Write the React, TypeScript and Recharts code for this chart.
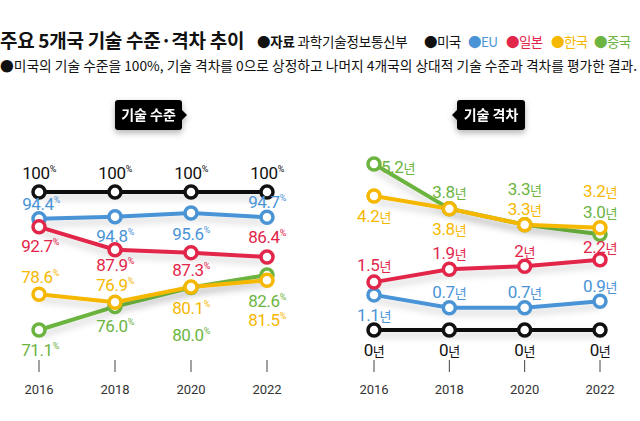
import { LineChart, Line, XAxis, YAxis } from 'recharts'

const years = [2016, 2018, 2020, 2022]

// 기술 수준 (%), 미국 = 100
const levelUS = ['100', '100', '100', '100']
const levelEU = ['94.4', '94.8', '95.6', '94.7']
const levelJP = ['92.7', '87.9', '87.3', '86.4']
const levelKR = ['78.6', '76.9', '80.1', '81.5']
const levelCN = ['71.1', '76.0', '80.0', '82.6']

// 기술 격차 (년), 미국 = 0
const gapUS = ['0', '0', '0', '0']
const gapEU = ['1.1', '0.7', '0.7', '0.9']
const gapJP = ['1.5', '1.9', '2', '2.2']
const gapKR = ['4.2', '3.8', '3.3', '3.2']
const gapCN = ['5.2', '3.8', '3.3', '3.0']

const C = {
  us: '#111111',
  eu: '#4a94d6',
  jp: '#e2264a',
  kr: '#f6b700',
  cn: '#6cb43f',
}

const FONT = "'Noto Sans CJK KR', sans-serif"
const NUM_FONT = "Roboto, 'Noto Sans CJK KR', sans-serif"

type Pos = [number, number, 'start' | 'middle' | 'end']

// label offsets from each dot: dx, dy (to baseline), anchor
const levelPos: Record<string, Pos[]> = {
  us: [[0, -13, 'middle'], [0, -13, 'middle'], [0, -13, 'middle'], [0, -13, 'middle']],
  eu: [[2, -9, 'middle'], [0, 25, 'middle'], [0, 27, 'middle'], [0, -9, 'middle']],
  jp: [[1, 25, 'middle'], [0, 21, 'middle'], [0, 23, 'middle'], [0, -14, 'middle']],
  kr: [[1, -11, 'middle'], [0, -11, 'middle'], [0, 27, 'middle'], [0, 46, 'middle']],
  cn: [[1, 26, 'middle'], [0, 25, 'middle'], [0, 53, 'middle'], [0, 32, 'middle']],
}

const gapPos: Record<string, Pos[]> = {
  us: [[0, 26, 'middle'], [0, 26, 'middle'], [0, 26, 'middle'], [0, 26, 'middle']],
  eu: [[0, 26, 'middle'], [0, -10, 'middle'], [0, -10, 'middle'], [0, -9, 'middle']],
  jp: [[0, -11, 'middle'], [0, -10, 'middle'], [0, -9, 'middle'], [0, -7, 'middle']],
  kr: [[0, 26, 'middle'], [0, 26, 'middle'], [0, -10, 'middle'], [0, -31, 'middle']],
  cn: [[7, 9, 'start'], [0, -11, 'middle'], [0, -30, 'middle'], [0, -16, 'middle']],
}

// draw order: green before yellow so yellow dots sit on top
const order = ['us', 'eu', 'jp', 'cn', 'kr'] as const

const levelData = years.map((year, i) => ({
  year,
  us: Number(levelUS[i]),
  eu: Number(levelEU[i]),
  jp: Number(levelJP[i]),
  kr: Number(levelKR[i]),
  cn: Number(levelCN[i]),
}))
const levelText: Record<string, string[]> = { us: levelUS, eu: levelEU, jp: levelJP, kr: levelKR, cn: levelCN }

const gapData = years.map((year, i) => ({
  year,
  us: Number(gapUS[i]),
  eu: Number(gapEU[i]),
  jp: Number(gapJP[i]),
  kr: Number(gapKR[i]),
  cn: Number(gapCN[i]),
}))
const gapText: Record<string, string[]> = { us: gapUS, eu: gapEU, jp: gapJP, kr: gapKR, cn: gapCN }

function YearTick(props: any) {
  const { x, y, payload } = props
  return (
    <g>
      <line x1={x} x2={x} y1={y + 30} y2={y + 42} stroke="#444" strokeWidth={1} />
      <text x={x} y={y + 64} textAnchor="middle" fontSize={13} fill="#333" fontFamily={NUM_FONT}>
        {payload.value}
      </text>
    </g>
  )
}

const ring = (color: string) => (p: any) => (
  <circle key={`r${p.index}`} cx={p.cx} cy={p.cy} r={6} fill="#fff" stroke={color} strokeWidth={3.5} />
)

const tag = (color: string, texts: string[], pos: Pos[], unit: 'pct' | 'yr') => (p: any) => {
  const [dx, dy, anchor] = pos[p.index]
  return (
    <text
      key={`t${p.index}`}
      x={p.cx + dx}
      y={p.cy + dy}
      textAnchor={anchor}
      fill={color}
      fontFamily={NUM_FONT}
      fontSize={17}
      letterSpacing={-0.4}
    >
      {texts[p.index]}
      {unit === 'pct' ? (
        <tspan fontSize={9} dy={-7}>%</tspan>
      ) : (
        <tspan fontSize={13} fontFamily={FONT}>년</tspan>
      )}
    </text>
  )
}

function Panel({
  data,
  texts,
  pos,
  unit,
  domain,
  margin,
}: {
  data: any[]
  texts: Record<string, string[]>
  pos: Record<string, Pos[]>
  unit: 'pct' | 'yr'
  domain: [number, number]
  margin: { top: number; right: number; bottom: number; left: number }
}) {
  return (
    <LineChart width={320} height={421} data={data} margin={margin} style={{ overflow: 'visible' }}>
      <XAxis
        dataKey="year"
        type="number"
        domain={[2016, 2022]}
        ticks={years}
        axisLine={false}
        tickLine={false}
        tickSize={0}
        tickMargin={0}
        height={60}
        tick={<YearTick />}
      />
      <YAxis hide type="number" domain={domain} />
      {order.map((k) => (
        <Line
          key={k}
          dataKey={k}
          stroke={C[k]}
          strokeWidth={4}
          filter="url(#lineShadow)"
          dot={ring(C[k])}
          activeDot={false}
          isAnimationActive={false}
        />
      ))}
      {order.map((k) => (
        <Line
          key={`lbl-${k}`}
          dataKey={k}
          stroke="none"
          dot={tag(C[k], texts[k], pos[k], unit)}
          activeDot={false}
          isAnimationActive={false}
        />
      ))}
    </LineChart>
  )
}

function Badge({ x, w, text, side }: { x: number; w: number; text: string; side: 'left' | 'right' }) {
  const y = 100
  const h = 30
  const tip =
    side === 'right'
      ? `M${x + w},${y + h / 2 - 5} L${x + w + 5},${y + h / 2} L${x + w},${y + h / 2 + 5} Z`
      : `M${x},${y + h / 2 - 5} L${x - 5},${y + h / 2} L${x},${y + h / 2 + 5} Z`
  return (
    <g filter="url(#badgeShadow)">
      <rect x={x} y={y} width={w} height={h} rx={3} fill="#000" />
      <path d={tip} fill="#000" />
      <text x={x + w / 2} y={y + 20} textAnchor="middle" fill="#fff" fontSize={14} fontWeight={700} fontFamily={FONT}>
        {text}
      </text>
    </g>
  )
}

const legend = [
  { label: '미국', color: C.us, x: 424 },
  { label: 'EU', color: C.eu, x: 468 },
  { label: '일본', color: C.jp, x: 506 },
  { label: '한국', color: C.kr, x: 551 },
  { label: '중국', color: C.cn, x: 594 },
]

export default function App() {
  return (
    <div style={{ position: 'absolute', left: 0, top: 0, width: 640, height: 421, background: '#fff', fontFamily: FONT }}>
      <svg width={640} height={140} style={{ position: 'absolute', left: 0, top: 0 }}>
        <defs>
          <filter id="lineShadow" filterUnits="userSpaceOnUse" x={-40} y={0} width={400} height={421}>
            <feDropShadow dx="0" dy="5" stdDeviation="3.5" floodColor="#000" floodOpacity="0.18" />
          </filter>
          <filter id="badgeShadow" x="-20%" y="-30%" width="140%" height="180%">
            <feDropShadow dx="0" dy="3" stdDeviation="3" floodColor="#000" floodOpacity="0.3" />
          </filter>
        </defs>
        <text x={0} y={48} fontSize={19} fontWeight={700} letterSpacing={-0.3} fill="#111" fontFamily={FONT}>
          주요 5개국 기술 수준·격차 추이
        </text>
        <text x={257} y={47} fontSize={13.5} fill="#111" letterSpacing={-0.2} fontFamily={FONT}>
          <tspan fontWeight={700}>●자료</tspan> 과학기술정보통신부
        </text>
        {legend.map((l) => (
          <text key={l.label} x={l.x} y={47} fontSize={13.5} fill={l.color} letterSpacing={-0.6} fontFamily={FONT}>
            ●{l.label}
          </text>
        ))}
        <text x={0} y={71} fontSize={13.75} fill="#111" letterSpacing={0} fontFamily={FONT}>
          ●미국의 기술 수준을 100%, 기술 격차를 0으로 상정하고 나머지 4개국의 상대적 기술 수준과 격차를 평가한 결과.
        </text>
        <Badge x={115} w={67} text="기술 수준" side="right" />
        <Badge x={457} w={68} text="기술 격차" side="left" />
      </svg>
      <div style={{ position: 'absolute', left: 0, top: 0 }}>
        <Panel
          data={levelData}
          texts={levelText}
          pos={levelPos}
          unit="pct"
          domain={[71.1, 100]}
          margin={{ top: 192, right: 53, bottom: 31, left: 39 }}
        />
      </div>
      <div style={{ position: 'absolute', left: 320, top: 0 }}>
        <Panel
          data={gapData}
          texts={gapText}
          pos={gapPos}
          unit="yr"
          domain={[0, 5.2]}
          margin={{ top: 164, right: 40, bottom: 31, left: 54 }}
        />
      </div>
    </div>
  )
}
